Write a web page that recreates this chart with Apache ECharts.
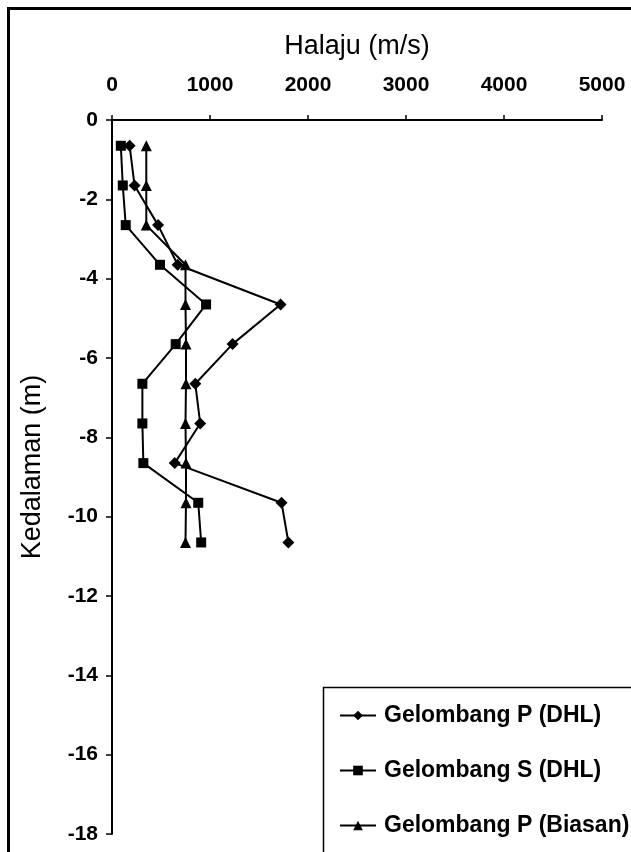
<!DOCTYPE html>
<html>
<head>
<meta charset="utf-8">
<script src="https://cdn.jsdelivr.net/npm/echarts@6/dist/echarts.min.js"></script>
<style>
html,body{margin:0;padding:0;background:#fff;}
#chart{width:631px;height:852px;}
</style>
</head>
<body>
<div id="chart"></div>
<script>
// Depths (m) and velocities (m/s)
const depths = [-0.65, -1.65, -2.65, -3.65, -4.65, -5.65, -6.65, -7.65, -8.65, -9.65, -10.65];
const pDHL = [180, 230, 470, 670, 1720, 1230, 850, 900, 640, 1730, 1800];
const sDHL = [90, 110, 140, 490, 960, 650, 310, 310, 320, 880, 910];
const pBiasan = [350, 350, 350, 750, 750, 755, 755, 750, 755, 755, 750];
const seriesNames = ['Gelombang P (DHL)', 'Gelombang S (DHL)', 'Gelombang P (Biasan)'];
const xTitle = 'Halaju (m/s)';
const yTitle = 'Kedalaman (m)';

const FONT = '"Liberation Sans", Arial, sans-serif';
function pairs(vals) { return vals.map((v, i) => [v, depths[i]]); }

const chart = echarts.init(document.getElementById('chart'), null, {renderer: 'canvas'});
const common = {
  type: 'line',
  lineStyle: {color: '#000', width: 2},
  itemStyle: {color: '#000'},
  emphasis: {disabled: true},
  animation: false
};
chart.setOption({
  backgroundColor: '#fff',
  animation: false,
  grid: {left: 112, top: 120, right: 29, bottom: 18, containLabel: false},
  xAxis: {
    type: 'value', position: 'top', min: 0, max: 5000, interval: 1000,
    name: xTitle, nameLocation: 'middle', nameGap: 60,
    nameTextStyle: {fontFamily: FONT, fontSize: 27, color: '#000'},
    axisLine: {show: true, lineStyle: {color: '#000', width: 2}},
    axisTick: {show: true, length: 5, lineStyle: {color: '#000', width: 1.5}},
    axisLabel: {fontFamily: FONT, fontSize: 21, fontWeight: 'bold', color: '#000', margin: 24,
      formatter: v => String(v)},
    splitLine: {show: false}
  },
  yAxis: {
    type: 'value', min: -18, max: 0, interval: 2,
    name: yTitle, nameLocation: 'middle', nameGap: 66, nameRotate: 90,
    nameTextStyle: {fontFamily: FONT, fontSize: 27, color: '#000', padding: [0, 0, 0, 20]},
    axisLine: {show: true, onZero: false, lineStyle: {color: '#000', width: 2}},
    axisTick: {show: true, length: 6, lineStyle: {color: '#000', width: 1.5}},
    axisLabel: {fontFamily: FONT, fontSize: 21, fontWeight: 'bold', color: '#000', margin: 14,
      formatter: v => String(v)},
    splitLine: {show: false}
  },
  legend: {
    orient: 'vertical', left: 323, top: 687,
    padding: [17, 0, 0, 16],
    borderWidth: 0,
    itemWidth: 36, itemHeight: 12, itemGap: 32,
    textStyle: {fontFamily: FONT, fontSize: 23, fontWeight: 'bold', color: '#000', padding: [0, 0, 0, 3]},
    data: seriesNames
  },
  graphic: [{
    type: 'rect', silent: true,
    shape: {x: 8.5, y: 8.5, width: 900, height: 1000},
    style: {fill: 'none', stroke: '#000', lineWidth: 3}
  }, {
    type: 'rect', silent: true,
    shape: {x: 323.5, y: 687.5, width: 400, height: 300},
    style: {fill: 'none', stroke: '#000', lineWidth: 1.5}
  }],
  series: [
    Object.assign({}, common, {name: seriesNames[0], data: pairs(pDHL), symbol: 'diamond', symbolSize: 12}),
    Object.assign({}, common, {name: seriesNames[1], data: pairs(sDHL), symbol: 'rect', symbolSize: 10}),
    Object.assign({}, common, {name: seriesNames[2], data: pairs(pBiasan), symbol: 'triangle', symbolSize: 11})
  ]
});
</script>
</body>
</html>
